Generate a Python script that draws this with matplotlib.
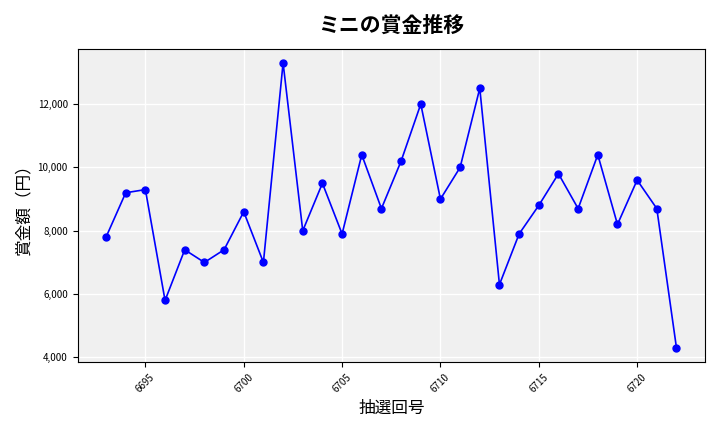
import matplotlib
matplotlib.use("Agg")
import matplotlib.pyplot as plt
from matplotlib.ticker import FuncFormatter

plt.rcParams['font.family'] = ['Noto Sans CJK JP', 'DejaVu Sans']

draws = list(range(6693, 6723))
prizes = [7800, 9200, 9300, 5800, 7400, 7000, 7400, 8600, 7000, 13300,
          8000, 9500, 7900, 10400, 8700, 10200, 12000, 9000, 10000, 12500,
          6300, 7900, 8800, 9800, 8700, 10400, 8200, 9600, 8700, 4300]

fig, ax = plt.subplots(figsize=(7.2, 4.32), dpi=100)
ax.set_facecolor('#f0f0f0')
ax.plot(draws, prizes, color='blue', marker='o', markersize=5, linewidth=1.2)
ax.grid(True, color='white', linewidth=1)
ax.set_axisbelow(True)
ax.set_title('ミニの賞金推移', fontsize=15, fontweight='bold', pad=12)
ax.set_xlabel('抽選回号', fontsize=12)
ax.set_ylabel('賞金額（円）', fontsize=12)
ax.set_xticks([6695, 6700, 6705, 6710, 6715, 6720])
ax.yaxis.set_major_formatter(FuncFormatter(lambda v, p: f'{int(v):,}'))
ax.tick_params(axis='x', labelrotation=45, labelsize=7)
ax.tick_params(axis='y', labelsize=7)
fig.tight_layout()
fig.savefig('out.png')
